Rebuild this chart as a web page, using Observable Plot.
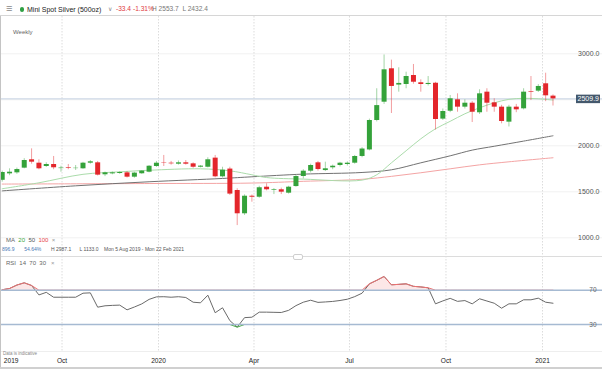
<!DOCTYPE html>
<html>
<head>
<meta charset="utf-8">
<script src="https://cdn.jsdelivr.net/npm/d3@7"></script>
<script src="https://cdn.jsdelivr.net/npm/@observablehq/plot@0.6"></script>
<style>
  body { margin: 0; background: #fff; font-family: "Liberation Sans", Arial, sans-serif; }
  #wrap { position: relative; width: 602px; height: 369px; overflow: hidden; background: #fff; }
  .abs { position: absolute; white-space: nowrap; line-height: 1; }
  #main, #rsi { position: absolute; left: 0; }
  #main { top: 16px; }
  #rsi { top: 256px; }
  svg { overflow: visible; }
</style>
</head>
<body>
<div id="wrap">
  <div id="main"></div>
  <div id="rsi"></div>

  <!-- header -->
  <div class="abs" style="left:0;top:0;width:602px;height:15px;border-bottom:1px solid #d6d6d6;background:#fff;"></div>
  <div class="abs" style="left:6px;top:3px;font-size:11px;color:#8a8a8a;">≡</div>
  <div class="abs" style="left:19.5px;top:7px;width:4.6px;height:4.6px;border-radius:50%;background:#2ea043;"></div>
  <div class="abs" style="left:27px;top:5.5px;font-size:7px;color:#222;">Mini Spot Silver (500oz)</div>
  <div class="abs" style="left:108px;top:6px;font-size:6px;color:#888;">∨</div>
  <div class="abs" style="left:116px;top:5.5px;font-size:6.6px;color:#e0393e;">-33.4</div>
  <div class="abs" style="left:133px;top:5.5px;font-size:6.6px;color:#e0393e;">-1.31%</div>
  <div class="abs" style="left:152px;top:5.5px;font-size:6.6px;color:#777;">H 2553.7&nbsp; L 2432.4</div>

  <div class="abs" style="left:0;top:16px;width:1px;height:353px;background:#c4c4c4;"></div>
  <div class="abs" style="left:13px;top:29px;font-size:6px;color:#666;">Weekly</div>

  <!-- MA legend -->
  <div class="abs" style="left:6px;top:237px;font-size:6px;color:#666;">MA&nbsp; <span style="color:#3aa63a">20</span>&nbsp; <span style="color:#555">50</span>&nbsp; <span style="color:#e84a4a">100</span>&nbsp; <span style="color:#999">×</span></div>
  <div class="abs" style="left:2px;top:247px;font-size:5px;color:#555;"><span style="color:#4a78b5">896.9</span>&nbsp;&nbsp;&nbsp;&nbsp;&nbsp;&nbsp; <span style="color:#4a78b5">54.64%</span>&nbsp;&nbsp;&nbsp;&nbsp;&nbsp;&nbsp; H 2987.1&nbsp;&nbsp;&nbsp;&nbsp;&nbsp; L 1133.0&nbsp;&nbsp;&nbsp; Mon 5 Aug 2019 - Mon 22 Feb 2021</div>

  <!-- panel separator -->
  <div class="abs" style="left:1px;top:256px;width:601px;height:1px;background:#dcdcdc;"></div>
  <div class="abs" style="left:293px;top:254px;width:8px;height:4px;border:1px solid #cfcfcf;border-radius:2px;background:#fff;"></div>

  <div class="abs" style="left:6px;top:260px;font-size:6px;color:#666;">RSI&nbsp; 14&nbsp; 70&nbsp; 30&nbsp;&nbsp; <span style="color:#999">×</span></div>

  <!-- bottom -->
  <div class="abs" style="left:1px;top:350.5px;width:601px;height:1px;background:#eeeeee;"></div>
  <div class="abs" style="left:3px;top:352px;font-size:4.5px;color:#888;">Data is indicative</div>
  <div class="abs" style="left:0;top:366.5px;width:602px;height:3px;background:#d0d0d0;"></div>
</div>

<script>
// ---------- data (weekly candles, Mini Spot Silver, price x100) ----------
const firstWeek = "2019-08-05";
const opens  = [1625,1695,1706,1757,1848,1811,1775,1797,1752,1761,1752,1750,1811,1815,1685,1695,1699,1706,1659,1696,
                1713,1775,1815,1811,1800,1815,1804,1767,1767,1866,1663,1747,1514,1261,1452,1441,1550,1515,1522,1485,
                1557,1666,1724,1815,1731,1761,1786,1797,1811,1884,1955,2275,2474,2837,2660,2666,2764,2685,2666,2680,
                2290,2376,2500,2420,2463,2359,2583,2467,2420,2257,2420,2402,2590,2594,2674,2540];
const highs  = [1725,1750,1758,1860,1967,1848,1815,1884,1778,1797,1786,1820,1840,1830,1715,1715,1718,1720,1712,1730,
                1785,1830,1895,1830,1835,1840,1815,1785,1870,1895,1767,1767,1533,1467,1465,1560,1587,1535,1540,1560,
                1680,1740,1800,1830,1822,1790,1820,1825,1895,1980,2290,2620,2987.1,2931,2848,2800,2884,2717,2753,2690,
                2400,2547,2565,2500,2480,2609,2620,2511,2440,2440,2450,2620,2753,2665,2789,2553.7];
const lows   = [1605,1675,1690,1750,1800,1739,1765,1740,1713,1740,1732,1745,1800,1672,1665,1685,1690,1650,1648,1690,
                1706,1765,1775,1790,1790,1790,1755,1760,1760,1652,1650,1460,1133,1243,1387,1430,1510,1470,1470,1475,
                1550,1640,1705,1725,1720,1740,1770,1780,1800,1870,1945,2260,2450,2351,2583,2620,2670,2583,2650,2171,
                2275,2360,2365,2400,2253,2340,2365,2365,2239,2205,2360,2390,2492,2580,2480,2432.4];
const closes = [1710,1713,1742,1840,1822,1750,1797,1761,1758,1754,1756,1811,1826,1681,1706,1706,1710,1659,1703,1725,
                1778,1811,1811,1804,1815,1800,1767,1779,1848,1663,1735,1475,1261,1452,1441,1544,1522,1522,1496,1550,
                1666,1724,1786,1742,1750,1778,1811,1811,1884,1965,2275,2437,2826,2645,2678,2753,2691,2666,2678,2286,
                2373,2511,2420,2463,2365,2565,2463,2420,2264,2420,2391,2583,2583,2645,2543.3,2509.9];
const rsiValues = [70.5,72,76,78.6,75.5,64.5,67.5,61.8,61.8,61.8,61.8,66.5,66.9,50.2,51.8,52.3,52.6,47.1,50.4,54,
                   59.3,62.2,62.4,61.8,62.4,61.5,56,55.3,64.2,43.7,49.5,34.5,26.9,38,38.5,44.4,44.4,44.2,44,46.5,
                   52,56,58.3,55.8,56.3,56.9,58,59.5,62.5,66.5,77.4,81.5,86,76.3,76.8,77.4,74.5,73.8,72.8,54.1,
                   57.5,60.5,57,57.9,54.1,60,57.4,54.8,49,54.1,54.1,58.8,58.8,60.7,56,54.8];

// moving averages (week index -> value)
const ma20Weeks  = [0,5,11,16,20,27,31,34,36,41,49,51,53,55,57,59,61,63,65,67,69,71,73,75];
const ma20Values = [1533,1598,1690,1717,1734,1750,1728,1685,1655,1638,1627,1685,1815,1946,2076,2185,2266,2348,2413,2467,2505,2516,2511,2497];
const ma50Weeks  = [0,10,20,30,34,41,49,53,57,61,64,67,71,75];
const ma50Values = [1510,1565,1609,1645,1663,1692,1710,1739,1815,1891,1953,1995,2051,2109];
const ma100Weeks  = [0,20,34,41,49,53,57,61,65,69,75];
const ma100Values = [1584,1590,1595,1614,1636,1668,1707,1750,1793,1826,1870];

const priceTicks = [1000,1500,2000,3000];
const priceGrid  = [1000,1500,2000,2500,3000];
const rsiLevels  = [70,30];
const timeTicks  = ["2019-10-01","2020-01-01","2020-04-01","2020-07-01","2020-10-01","2021-01-01"];
const lastClose  = 2509.9;

// ---------- build ----------
const start = new Date(firstWeek + "T00:00:00Z");
const weeks = opens.map((_, i) => d3.utcMonday.offset(start, i));
const candles = weeks.map((date, i) => ({date, open: opens[i], high: highs[i], low: lows[i], close: closes[i], rsi: rsiValues[i]}));
const maPts = (w, v) => w.map((k, j) => ({date: weeks[k], v: v[j]}));
const tickDates = timeTicks.map(s => new Date(s + "T00:00:00Z"));

const UP = "#34a23a", DOWN = "#e3262b";
const col = d => d.close >= d.open ? UP : DOWN;

const xScale = {type: "utc", domain: [new Date(Date.UTC(2019,7,3,9)), new Date(Date.UTC(2021,1,1,11))], range: [0, 575], axis: null};
const font = {fontFamily: "Liberation Sans, Arial, sans-serif", fontSize: "7px", background: "transparent", overflow: "visible"};

const main = Plot.plot({
  width: 602, height: 240, marginTop: 0, marginRight: 0, marginBottom: 0, marginLeft: 0,
  x: xScale,
  y: {domain: [1000, 3000], range: [221.3, 37.3], axis: null},
  style: font,
  marks: [
    Plot.ruleY(priceGrid, {stroke: "#f1f1f1"}),
    Plot.ruleX(tickDates, {stroke: "#dcdcdc", strokeDasharray: "1.5,1.5"}),
    Plot.ruleY([lastClose], {stroke: "#c2cfe0"}),
    Plot.line(maPts(ma100Weeks, ma100Values), {x: "date", y: "v", stroke: "#f4a4a4", strokeWidth: 1, curve: "catmull-rom"}),
    Plot.line(maPts(ma50Weeks, ma50Values), {x: "date", y: "v", stroke: "#727272", strokeWidth: 1, curve: "catmull-rom"}),
    Plot.line(maPts(ma20Weeks, ma20Values), {x: "date", y: "v", stroke: "#abdcab", strokeWidth: 1, curve: "catmull-rom"}),
    Plot.ruleX(candles, {x: "date", y1: "low", y2: "high", stroke: col, strokeOpacity: 0.45}),
    Plot.ruleX(candles, {x: "date", y1: "open", y2: "close", stroke: col, strokeWidth: 5}),
    Plot.text(priceTicks, {y: d => d, text: d => d.toFixed(1), frameAnchor: "right", textAnchor: "end", dx: -3, fill: "#555"}),
    Plot.ruleY([lastClose], {insetLeft: 576, insetRight: 2, stroke: "#44586c", strokeWidth: 8.5}),
    Plot.text([lastClose], {y: d => d, text: d => d.toFixed(1), frameAnchor: "right", textAnchor: "end", dx: -3.5, fill: "#fff"})
  ]
});
document.getElementById("main").appendChild(main);

const fmt = d => d.getUTCMonth() === 0 ? String(d.getUTCFullYear()) : d3.utcFormat("%b")(d);

const rsiPlot = Plot.plot({
  width: 602, height: 113, marginTop: 0, marginRight: 0, marginBottom: 18.3, marginLeft: 0,
  x: xScale,
  y: {domain: [30, 70], range: [68, 33.7], axis: null},
  style: font,
  marks: [
    Plot.ruleX(tickDates, {stroke: "#dcdcdc", strokeDasharray: "1.5,1.5"}),
    Plot.areaY(candles, {x: "date", y1: 70, y2: d => Math.max(d.rsi, 70), fill: "#f7c4c4", fillOpacity: 0.4}),
    Plot.areaY(candles, {x: "date", y1: 30, y2: d => Math.min(d.rsi, 30), fill: "#bfe5bf", fillOpacity: 0.5}),
    Plot.line(candles, {x: "date", y: "rsi", stroke: "#6a6a6a", strokeWidth: 1}),
    Plot.line(candles, {x: "date", y: d => Math.max(d.rsi, 70), stroke: "#ef7272", strokeWidth: 1}),
    Plot.line(candles, {x: "date", y: d => Math.min(d.rsi, 30), stroke: "#45ad45", strokeWidth: 1}),
    Plot.ruleY(rsiLevels, {stroke: "#a6bad2", strokeWidth: 1.6}),
    Plot.text(rsiLevels, {y: d => d, text: d => String(d), frameAnchor: "right", textAnchor: "end", dx: -6, fill: "#666", fontSize: 6.5}),
    Plot.text(tickDates, {x: d => d, text: fmt, frameAnchor: "bottom", dy: 11.6, fill: "#222", fontSize: 6.6}),
    Plot.text(["2019"], {text: d => d, frameAnchor: "bottom-left", dx: 3.3, dy: 11.6, textAnchor: "start", fill: "#222", fontSize: 6.6})
  ]
});
document.getElementById("rsi").appendChild(rsiPlot);
</script>
</body>
</html>
